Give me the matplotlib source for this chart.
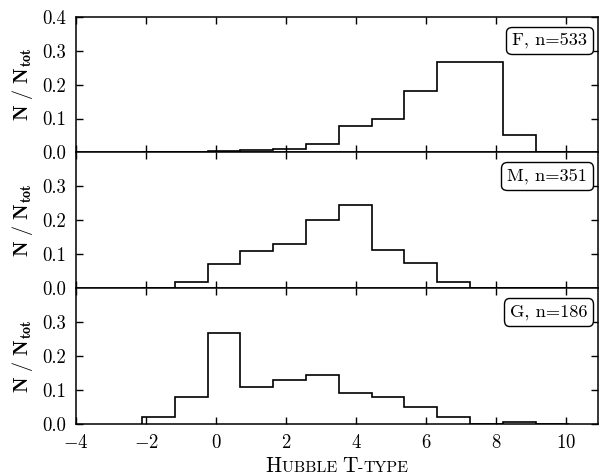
import numpy as np
import matplotlib
matplotlib.use("Agg")
import matplotlib.pyplot as plt
from matplotlib.offsetbox import TextArea, HPacker, AnchoredOffsetbox, AnchoredText

plt.rcParams['font.family'] = 'serif'
plt.rcParams['font.serif'] = ['cmr10', 'DejaVu Serif']
plt.rcParams['mathtext.fontset'] = 'cm'
plt.rcParams['axes.formatter.use_mathtext'] = True
plt.rcParams['axes.unicode_minus'] = True

# Data
bin_start = -2.12
bin_width = 0.937
n_bins = 13
labels = ["F, n=533", "M, n=351", "G, n=186"]
frac_F = [0, 0, 0.004, 0.006, 0.011, 0.026, 0.078, 0.099, 0.182, 0.268, 0.268, 0.052, 0.002]
frac_M = [0.002, 0.018, 0.072, 0.109, 0.129, 0.200, 0.244, 0.114, 0.075, 0.018, 0, 0, 0]
frac_G = [0.0216, 0.080, 0.269, 0.108, 0.129, 0.145, 0.092, 0.080, 0.049, 0.0216, 0, 0.005, 0]
series = [frac_F, frac_M, frac_G]

edges = bin_start + bin_width * np.arange(n_bins + 1)

fig = plt.figure(figsize=(6.03, 4.76), dpi=100)
left, right, top, bottom = 76/603, 598/603, 1 - 16.7/476, 1 - 424/476
gs = fig.add_gridspec(3, 1, left=left, right=right, top=top, bottom=bottom, hspace=0)
axes = [fig.add_subplot(gs[i]) for i in range(3)]

for i, (ax, vals, lab) in enumerate(zip(axes, series, labels)):
    ax.stairs(vals, edges, color='black', lw=1.2, baseline=0)
    ax.set_xlim(-4, 10.9)
    ax.set_ylim(0, 0.4)
    ax.set_xticks([-4, -2, 0, 2, 4, 6, 8, 10])
    if i == 0:
        ax.set_yticks([0, 0.1, 0.2, 0.3, 0.4])
    else:
        ax.set_yticks([0, 0.1, 0.2, 0.3])
    ax.yaxis.set_major_formatter(matplotlib.ticker.FormatStrFormatter('%.1f'))
    ax.tick_params(direction='in', top=True, right=True, length=5, width=1,
                   labelsize=13.5, pad=7)
    if i < 2:
        ax.tick_params(labelbottom=False)
    for s in ax.spines.values():
        s.set_linewidth(1.1)
    ax.set_ylabel(r'$\mathbf{N\ /\ N_{tot}}$', fontsize=14.5, labelpad=5)
    at = AnchoredText(lab, loc='upper right', prop=dict(size=13.2), frameon=True,
                      pad=0.32, borderpad=0,
                      bbox_to_anchor=(1 - 5/522, 1 - 10/135.5),
                      bbox_transform=ax.transAxes)
    at.patch.set_boxstyle('round,pad=0.,rounding_size=0.3')
    at.patch.set_linewidth(1.0)
    ax.add_artist(at)

fig.align_ylabels(axes)

# small-caps x label
parts = [("H", 15.5), ("UBBLE ", 11.5), ("T", 15.5), ("-", 11.5), ("TYPE", 11.5)]
children = [TextArea(t, textprops=dict(size=s, family='serif')) for t, s in parts]
pack = HPacker(children=children, align='baseline', pad=0, sep=0)
box = AnchoredOffsetbox(loc='lower center', child=pack, frameon=False, pad=0, borderpad=0,
                        bbox_to_anchor=((left + right) / 2, 0.0), bbox_transform=fig.transFigure)
fig.add_artist(box)

fig.savefig('out.png', dpi=100)
